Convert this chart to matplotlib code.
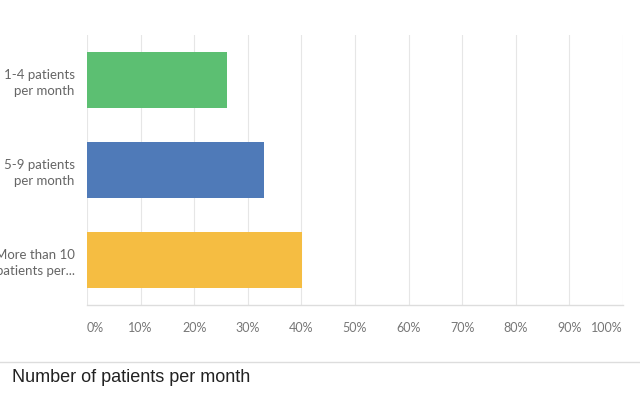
import matplotlib
matplotlib.use("Agg")
import matplotlib.pyplot as plt
from matplotlib.lines import Line2D

categories = ["1-4 patients\nper month", "5-9 patients\nper month", "More than 10\npatients per..."]
values = [26.1, 33.0, 40.1]
colors = ["#5cbf72", "#4f7ab8", "#f5bd42"]
ticks = [0, 10, 20, 30, 40, 50, 60, 70, 80, 90, 100]
tick_labels = [f"{t}%" for t in ticks]
title = "Number of patients per month"

plt.rcParams['font.family'] = ['Lato', 'DejaVu Sans']
fig = plt.figure(figsize=(6.4, 3.93), dpi=100)
ax = fig.add_axes([87/640, 1-305/393, 536/640, 270/393])

ypos = list(range(len(categories)))
ax.barh(ypos, values, height=0.62, color=colors, zorder=3)
ax.set_ylim(2.5, -0.5)
ax.set_xlim(0, 100)
ax.set_xticks(ticks)
ax.set_xticklabels(tick_labels, fontsize=9, color="#777777")
labs = ax.get_xticklabels()
labs[0].set_horizontalalignment('left')
labs[-1].set_horizontalalignment('right')
ax.set_yticks(ypos)
ax.set_yticklabels(categories, fontsize=9.5, color="#666666", linespacing=1.4)
ax.tick_params(axis='both', length=0)
ax.tick_params(axis='x', pad=12)
ax.tick_params(axis='y', pad=9)
ax.grid(axis='x', color="#e6e6e6", linewidth=0.8, zorder=0)
for s in ["top", "right", "left"]:
    ax.spines[s].set_visible(False)
ax.spines["bottom"].set_color("#dddddd")
ax.spines["bottom"].set_linewidth(1.0)

fig.add_artist(Line2D([0, 1], [1-362/393, 1-362/393], color="#dddddd", linewidth=1.0, transform=fig.transFigure))
fig.text(12/640, 1-378/393, title, fontsize=13, color="#222222", va="center", ha="left",
         family=['Liberation Sans', 'DejaVu Sans'])

fig.savefig("out.png", dpi=100, facecolor="white")
